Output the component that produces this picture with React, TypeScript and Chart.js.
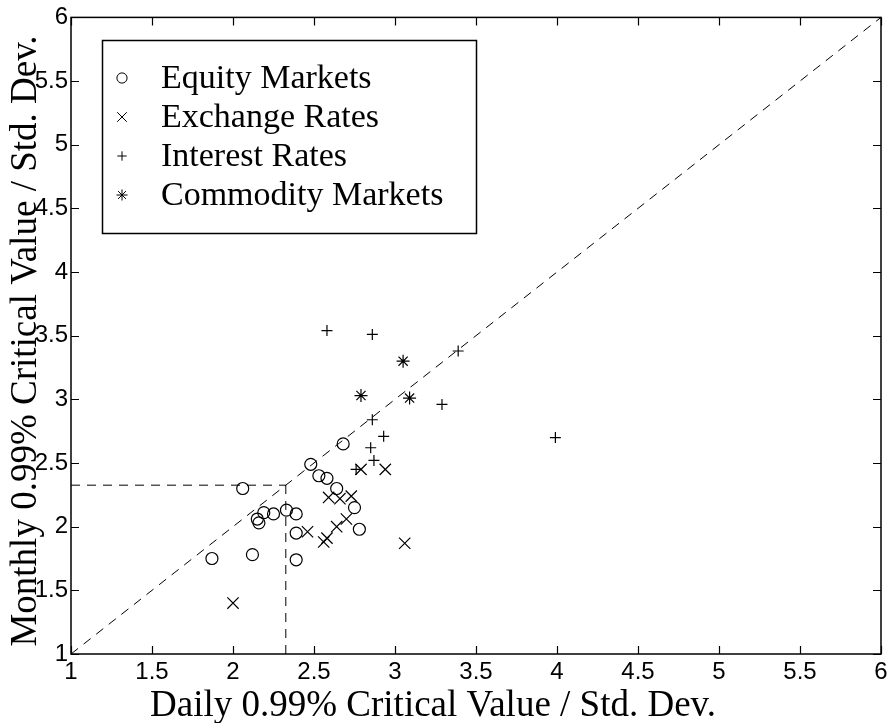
import React, { useEffect, useRef } from 'react';
import { Chart, registerables } from 'chart.js';
import { drawPoint } from 'chart.js/helpers';

Chart.register(...registerables);

// ---- data ----
const equityX = [1.87, 2.12, 2.06, 2.15, 2.16, 2.19, 2.25, 2.33, 2.39, 2.39, 2.39, 2.48, 2.53, 2.58, 2.64, 2.68, 2.75, 2.78];
const equityY = [1.75, 1.78, 2.30, 2.06, 2.03, 2.11, 2.10, 2.13, 2.10, 1.95, 1.74, 2.49, 2.40, 2.38, 2.30, 2.65, 2.15, 1.98];

const exchangeX = [2.00, 2.46, 2.56, 2.58, 2.64, 2.70, 2.59, 2.66, 2.73, 2.79, 2.94, 3.06];
const exchangeY = [1.40, 1.96, 1.88, 1.91, 2.00, 2.06, 2.23, 2.22, 2.24, 2.45, 2.45, 1.87];

const interestX = [2.58, 2.86, 3.39, 3.29, 2.86, 2.93, 2.85, 2.87, 2.76, 3.99];
const interestY = [3.54, 3.51, 3.38, 2.96, 2.84, 2.71, 2.62, 2.52, 2.45, 2.70];

const commodityX = [3.05, 2.79, 3.09];
const commodityY = [3.30, 3.03, 3.01];

const seriesNames = ['Equity Markets', 'Exchange Rates', 'Interest Rates', 'Commodity Markets'];
const tickValues = [1, 1.5, 2, 2.5, 3, 3.5, 4, 4.5, 5, 5.5, 6];
const axisMin = 1;
const axisMax = 6;
const critValue = 2.326;

const xTitle = 'Daily 0.99% Critical Value / Std. Dev.';
const yTitle = 'Monthly 0.99% Critical Value / Std. Dev.';

const SERIF = '"Liberation Serif", "Times New Roman", serif';
const TICKFONT = '"Liberation Sans Narrow", "Liberation Sans", Arial, sans-serif';

const zip = (xs: number[], ys: number[]) => xs.map((x, i) => ({ x, y: ys[i] }));

const markerStyles = [
  { pointStyle: 'circle', radius: 6 },
  { pointStyle: 'crossRot', radius: 8 },
  { pointStyle: 'cross', radius: 5.5 },
  { pointStyle: 'star', radius: 6.5 },
];

const framePlugin = {
  id: 'framePlugin',
  afterDraw(chart: any) {
    const ctx = chart.ctx;
    const { left, top, right, bottom } = chart.chartArea;
    const xs = chart.scales.x;
    const ys = chart.scales.y;
    ctx.save();
    ctx.strokeStyle = '#000';
    ctx.lineWidth = 1.5;
    ctx.strokeRect(left, top, right - left, bottom - top);
    ctx.lineWidth = 1.2;
    const tl = 8;
    ctx.beginPath();
    tickValues.forEach((v) => {
      const px = Math.round(xs.getPixelForValue(v)) + 0.5;
      ctx.moveTo(px, bottom);
      ctx.lineTo(px, bottom - tl);
      ctx.moveTo(px, top);
      ctx.lineTo(px, top + tl);
      const py = Math.round(ys.getPixelForValue(v)) + 0.5;
      ctx.moveTo(left, py);
      ctx.lineTo(left + tl, py);
      ctx.moveTo(right, py);
      ctx.lineTo(right - tl, py);
    });
    ctx.stroke();

    // axis titles
    ctx.fillStyle = '#000';
    ctx.font = `37px ${SERIF}`;
    ctx.textAlign = 'center';
    ctx.textBaseline = 'alphabetic';
    ctx.fillText(xTitle, 433, 716);
    ctx.save();
    ctx.translate(36, 341);
    ctx.rotate(-Math.PI / 2);
    ctx.fillText(yTitle, 0, 0);
    ctx.restore();

    // legend
    const bx = 102.5, by = 40.5, bw = 374, bh = 193;
    ctx.fillStyle = '#fff';
    ctx.fillRect(bx, by, bw, bh);
    ctx.strokeStyle = '#000';
    ctx.lineWidth = 1.5;
    ctx.strokeRect(bx, by, bw, bh);
    ctx.font = `34px ${SERIF}`;
    ctx.textAlign = 'left';
    seriesNames.forEach((name, i) => {
      const cy = 78 + i * 39;
      ctx.strokeStyle = '#000';
      ctx.fillStyle = 'rgba(0,0,0,0)';
      ctx.lineWidth = 1;
      drawPoint(ctx, { pointStyle: markerStyles[i].pointStyle as any, radius: markerStyles[i].radius * 0.85, rotation: 0, borderWidth: 1 } as any, 122, cy);
      ctx.fillStyle = '#000';
      ctx.fillText(name, 161, cy + 10);
    });
    ctx.restore();
  },
};

export default function App() {
  const ref = useRef<HTMLCanvasElement>(null);
  useEffect(() => {
    const series = [zip(equityX, equityY), zip(exchangeX, exchangeY), zip(interestX, interestY), zip(commodityX, commodityY)];
    const dash = [9, 7];
    const lineDs = (data: { x: number; y: number }[]) => ({
      type: 'line' as const,
      data,
      showLine: true,
      borderColor: '#000',
      borderWidth: 1,
      borderDash: dash,
      pointRadius: 0,
      fill: false,
    });
    const chart = new Chart(ref.current!, {
      type: 'scatter',
      data: {
        datasets: [
          lineDs([{ x: axisMin, y: axisMin }, { x: axisMax, y: axisMax }]),
          lineDs([{ x: axisMin, y: critValue }, { x: critValue, y: critValue }]),
          lineDs([{ x: critValue, y: axisMin }, { x: critValue, y: critValue }]),
          ...series.map((data, i) => ({
            label: seriesNames[i],
            data,
            pointStyle: markerStyles[i].pointStyle as any,
            pointRadius: markerStyles[i].radius,
            borderColor: '#000',
            backgroundColor: 'rgba(0,0,0,0)',
            pointBorderWidth: 1.2,
            showLine: false,
          })),
        ] as any,
      },
      options: {
        animation: false,
        responsive: false,
        maintainAspectRatio: false,
        layout: { padding: { top: 15, right: 12, left: 0, bottom: 0 } },
        plugins: { legend: { display: false }, tooltip: { enabled: false } },
        scales: {
          x: {
            type: 'linear',
            min: axisMin,
            max: axisMax,
            grid: { display: false, drawTicks: false },
            border: { display: false },
            afterFit: (s: any) => { s.height = 69; },
            afterBuildTicks: (s: any) => { s.ticks = tickValues.map((v) => ({ value: v })); },
            ticks: {
              color: '#000',
              font: { family: TICKFONT, size: 24 },
              padding: 4,
              maxRotation: 0,
              autoSkip: false,
              callback: (v: any) => String(v),
            },
          },
          y: {
            type: 'linear',
            min: axisMin,
            max: axisMax,
            grid: { display: false, drawTicks: false },
            border: { display: false },
            afterFit: (s: any) => { s.width = 71; },
            afterBuildTicks: (s: any) => { s.ticks = tickValues.map((v) => ({ value: v })); },
            ticks: {
              color: '#000',
              font: { family: TICKFONT, size: 24 },
              padding: 3,
              autoSkip: false,
              callback: (v: any) => String(v),
            },
          },
        },
      },
      plugins: [framePlugin],
    });
    return () => chart.destroy();
  }, []);
  return (
    <div style={{ position: 'fixed', left: 0, top: 0, width: 893, height: 723, background: '#fff' }}>
      <canvas ref={ref} width={893} height={723} style={{ display: 'block' }} />
    </div>
  );
}
